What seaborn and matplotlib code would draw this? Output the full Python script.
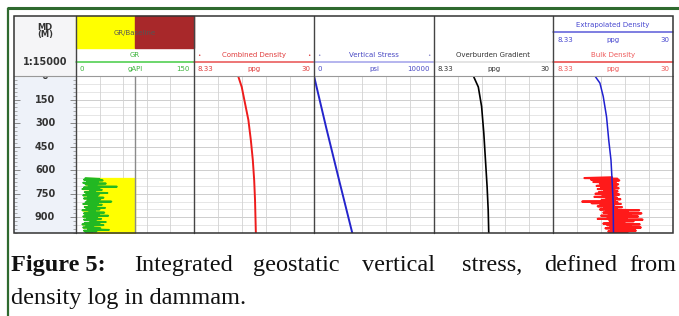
import numpy as np
import matplotlib.pyplot as plt
import matplotlib.patches as mpatches
import seaborn as sns

depth_labels = [0, 150, 300, 450, 600, 750, 900]

cd_depth = [0, 70, 175, 280, 410, 535, 665, 790, 1000]
cd_ppg = [16.3, 16.95, 17.55, 18.15, 18.6, 18.95, 19.2, 19.35, 19.5]

vs_depth = [0, 330, 660, 1000]
vs_psi = [0, 1020, 2080, 3190]

ob_depth = [0, 70, 195, 365, 535, 705, 855, 1000]
ob_ppg = [15.5, 16.4, 17.0, 17.4, 17.7, 18.0, 18.2, 18.3]

ed_depth = [0, 45, 130, 260, 410, 535, 665, 810, 1000]
ed_ppg = [15.9, 16.8, 17.4, 18.0, 18.4, 18.8, 19.0, 19.2, 19.25]

gr_depth = list(range(650, 1001, 5))
gr_api = [12, 30, 10, 34, 14, 28, 9, 38, 12, 26,
          16, 52, 10, 30, 8, 33, 18, 24, 11, 40,
          13, 29, 9, 27, 15, 35, 10, 31, 22, 14,
          45, 12, 28, 9, 33, 16, 26, 11, 37, 13,
          30, 8, 24, 17, 36, 10, 29, 12, 41, 9,
          27, 14, 32, 10, 25, 18, 38, 11, 30, 8,
          35, 13, 22, 9, 31, 15, 42, 10, 26, 12,
          20]
gr_baseline = 75

bd_depth = list(range(645, 1001, 5))
bd_ppg = [19.0, 14.0, 20.0, 15.2, 20.3, 17.8, 15.6, 19.7, 16.8, 20.1,
          17.6, 16.2, 19.8, 17.0, 20.2, 16.4, 19.4, 17.6, 20.0, 16.6,
          19.7, 16.0, 20.3, 17.3, 19.4, 15.8, 19.9, 18.0, 20.5, 17.1,
          19.5, 13.6, 20.0, 15.3, 20.6, 16.9, 19.3, 16.4, 20.8, 17.6,
          19.8, 16.8, 23.9, 18.0, 21.8, 17.4, 24.3, 18.4, 22.4, 17.0,
          23.7, 18.2, 21.6, 16.4, 24.5, 18.5, 22.9, 18.6, 21.2, 17.4,
          24.0, 18.1, 22.3, 18.7, 24.2, 17.8, 23.1, 18.9, 23.3, 18.3,
          21.8, 18.8]

sns.set_theme(style="white")
plt.rcParams['font.family'] = ['DejaVu Sans']

W, H = 679, 316
Y0, Y1 = 76, 233  # data area, pixels from top
fig = plt.figure(figsize=(W / 100, H / 100), dpi=100)


def data_ax(x0, x1, xlim, face='white', grid=True):
    ax = fig.add_axes([x0 / W, 1 - Y1 / H, (x1 - x0) / W, (Y1 - Y0) / H])
    ax.set_xlim(*xlim)
    ax.set_ylim(1000, 0)
    ax.set_facecolor(face)
    ax.set_xticks([])
    ax.set_yticks([])
    for s in ax.spines.values():
        s.set_visible(False)
    if grid:
        for d in range(50, 1000, 50):
            ax.axhline(d, color='#c6c6c6' if d % 150 == 0 else '#e2e2e2', lw=0.6, zorder=0)
        for v in np.linspace(xlim[0], xlim[1], 6)[1:-1]:
            ax.axvline(v, color='#d2d2d2', lw=0.6, zorder=0)
    return ax


# depth track
ax_d = data_ax(14, 76, (0, 1), face='#eef2f9', grid=False)
ax_d.set_yticks(depth_labels)
ax_d.set_yticks(range(0, 1001, 25), minor=True)
ax_d.tick_params(axis='y', which='both', direction='in', left=True, right=True,
                 labelleft=False, color='#777')
ax_d.tick_params(axis='y', which='major', length=4, width=0.6)
ax_d.tick_params(axis='y', which='minor', length=2, width=0.4)
for d in depth_labels:
    ax_d.text(0.5, d, str(d), ha='center', va='center', fontsize=7,
              fontweight='bold', color='#333', clip_on=True)

# GR track
ax_gr = data_ax(76, 194, (0, 150))
ax_gr.fill_betweenx(gr_depth, gr_api, gr_baseline, color='#ffff00', zorder=1)
ax_gr.axvline(gr_baseline, color='#8a8a8a', lw=1, zorder=2)
sns.lineplot(x=gr_api, y=gr_depth, orient='y', sort=False, estimator=None,
             color='#22b822', lw=1.3, ax=ax_gr, zorder=3, legend=False)

# combined density
ax_cd = data_ax(194, 314, (8.33, 30))
sns.lineplot(x=cd_ppg, y=cd_depth, orient='y', sort=False, estimator=None,
             color='#ee1c1c', lw=1.4, ax=ax_cd, zorder=3, legend=False)

# vertical stress
ax_vs = data_ax(314, 434, (0, 10000))
sns.lineplot(x=vs_psi, y=vs_depth, orient='y', sort=False, estimator=None,
             color='#2424cc', lw=1.4, ax=ax_vs, zorder=3, legend=False)

# overburden gradient
ax_ob = data_ax(434, 553, (8.33, 30))
sns.lineplot(x=ob_ppg, y=ob_depth, orient='y', sort=False, estimator=None,
             color='black', lw=1.2, ax=ax_ob, zorder=3, legend=False)

# bulk + extrapolated density
ax_bd = data_ax(553, 673, (8.33, 30))
sns.lineplot(x=bd_ppg, y=bd_depth, orient='y', sort=False, estimator=None,
             color='#ff1a1a', lw=1.5, ax=ax_bd, zorder=3, legend=False)
sns.lineplot(x=ed_ppg, y=ed_depth, orient='y', sort=False, estimator=None,
             color='#2020d0', lw=1.1, ax=ax_bd, zorder=4, legend=False)

for ax in [ax_d, ax_gr, ax_cd, ax_vs, ax_ob, ax_bd]:
    ax.set(xlabel='', ylabel='')

# ---- header / frame overlay in pixel coords ----
hdr = fig.add_axes([0, 0, 1, 1])
hdr.set_xlim(0, W)
hdr.set_ylim(H, 0)
hdr.axis('off')
hdr.set_zorder(5)

hdr.add_patch(mpatches.Rectangle((14, 16), 62, 60, color='#f5f5f7', zorder=0))
hdr.add_patch(mpatches.Rectangle((76, 16), 59, 32, color='#ffff00', zorder=1))
hdr.add_patch(mpatches.Rectangle((135, 16), 59, 32, color='#a8282a', zorder=1))

fs = 5
hdr.text(45, 31, 'MD\n(M)', ha='center', va='center', fontsize=6, fontweight='bold',
         color='#333', linespacing=0.85)
hdr.text(45, 62, '1:15000', ha='center', va='center', fontsize=7, fontweight='bold', color='#333')

hdr.text(135, 33, 'GR/Baseline', ha='center', va='center', fontsize=fs, color='#555')


def scale_row(x0, x1, y, left, mid, right, color, title=None, line=None, ty=None):
    hdr.text(x0 + 4, y, left, ha='left', va='center', fontsize=fs, color=color)
    hdr.text((x0 + x1) / 2, y, mid, ha='center', va='center', fontsize=fs, color=color)
    hdr.text(x1 - 4, y, right, ha='right', va='center', fontsize=fs, color=color)
    if title is not None:
        hdr.text((x0 + x1) / 2, ty, title, ha='center', va='center', fontsize=fs, color=color)
    if line is not None:
        hdr.plot([x0, x1], [ty + 6.5, ty + 6.5], color=line, lw=1.1)


scale_row(76, 194, 69, '0', 'gAPI', '150', '#3cb43c', 'GR', '#44cc44', 55)
scale_row(194, 314, 69, '8.33', 'ppg', '30', '#e03c3c', 'Combined Density', '#e85050', 55)
scale_row(314, 434, 69, '0', 'psi', '10000', '#4a4ac4', 'Vertical Stress', '#a0a0ea', 55)
scale_row(434, 553, 69, '8.33', 'ppg', '30', '#333333', 'Overburden Gradient', '#dddddd', 55)
scale_row(553, 673, 40, '8.33', 'ppg', '30', '#4848d0', 'Extrapolated Density', '#5a5ad8', 25)
scale_row(553, 673, 69, '8.33', 'ppg', '30', '#ee5a5a', 'Bulk Density', '#e84040', 55)
for xm, c in [(199, '#e03c3c'), (309, '#e03c3c'), (319, '#8888cc'), (429, '#8888cc')]:
    hdr.text(xm, 55, '\u2022', ha='center', va='center', fontsize=4, color=c)

# grid frame
hdr.plot([14, 673], [76, 76], color='#999', lw=0.8)
for xs in [76, 194, 314, 434, 553]:
    hdr.plot([xs, xs], [16, 233], color='#444', lw=1)
hdr.add_patch(mpatches.Rectangle((14, 16), 659, 217, fill=False, ec='#333', lw=1.1, zorder=6))

# green page frame
hdr.plot([7, 679], [8, 8], color='#2f6a2f', lw=2.2, solid_capstyle='butt')
hdr.plot([8, 8], [8, 316], color='#2f6a2f', lw=1.6, solid_capstyle='butt')

# caption (justified first line)
serif = ['Liberation Serif', 'DejaVu Serif']
cfs = 17.5
hdr.text(11, 271, 'Figure 5:', ha='left', va='baseline', fontsize=cfs,
         family=serif, fontweight='bold', color='#111')
for word, xw in [('Integrated', 134), ('geostatic', 253), ('vertical', 362),
                 ('stress,', 462), ('defined', 544), ('from', 629)]:
    hdr.text(xw, 271, word, ha='left', va='baseline', fontsize=cfs, family=serif, color='#111')
hdr.text(11, 304, 'density log in dammam.', ha='left', va='baseline', fontsize=cfs,
         family=serif, color='#111')

fig.savefig('out.png', dpi=100)
